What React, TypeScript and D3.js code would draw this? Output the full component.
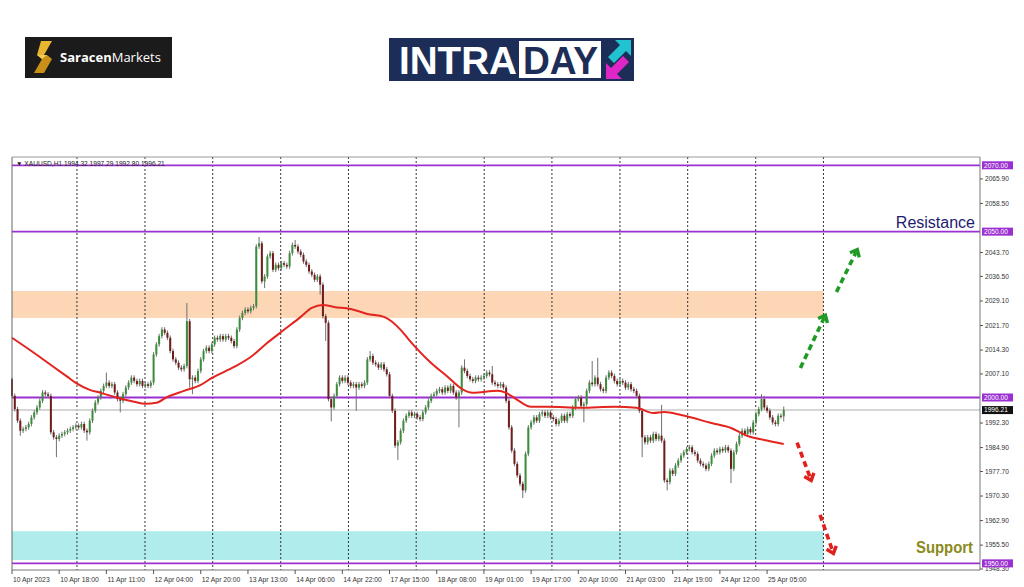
import React from 'react';
import * as d3 from 'd3';

// ---------- DATA ----------
const firstOpen = 2005.5;
const closes: number[] = [
  2000.5, 1996.5, 1993.0, 1990.0, 1990.5, 1991.0, 1992.0, 1994.0, 1995.5, 1997.0,
  1999.0, 2001.5, 2001.0, 2000.5, 1989.5, 1988.0, 1987.5, 1988.5, 1989.0, 1989.5,
  1990.0, 1990.5, 1991.0, 1991.5, 1991.0, 1992.0, 1990.0, 1989.5, 1993.0, 1996.0,
  1998.5, 2000.0, 2002.0, 2003.5, 2004.5, 2003.5, 2004.0, 2001.5, 1999.5, 1999.0,
  2001.0, 2003.0, 2004.5, 2006.0, 2005.0, 2004.0, 2005.0, 2003.5, 2004.0, 2003.5,
  2004.5, 2013.0, 2016.0, 2018.5, 2020.5, 2019.5, 2018.0, 2014.0, 2011.5, 2010.5,
  2009.0, 2008.5, 2009.5, 2023.0, 2005.5, 2006.0, 2005.0, 2008.0, 2011.5, 2014.0,
  2015.0, 2014.0, 2016.0, 2018.0, 2017.5, 2018.5, 2017.5, 2018.5, 2018.0, 2017.0,
  2015.5, 2020.5, 2024.0, 2025.5, 2026.5, 2026.0, 2027.0, 2027.5, 2045.5, 2046.5,
  2035.0, 2036.5, 2042.5, 2043.5, 2038.5, 2040.0, 2039.0, 2040.5, 2040.0, 2039.5,
  2043.5, 2046.0, 2045.5, 2044.0, 2043.0, 2041.0, 2040.0, 2038.0, 2037.0, 2035.5,
  2036.5, 2034.0, 2024.5, 2022.5, 1999.5, 1997.0, 2000.5, 2004.0, 2006.0, 2005.0,
  2006.0, 2004.5, 2003.5, 2004.0, 2003.0, 2004.0, 2003.5, 2004.5, 2011.5, 2012.5,
  2010.5, 2010.0, 2009.0, 2010.0, 2008.5, 2007.0, 2000.5, 1996.0, 1985.5, 1986.5,
  1990.0, 1993.0, 1994.5, 1995.5, 1994.5, 1995.0, 1994.0, 1993.5, 1995.5, 1997.0,
  1999.0, 2000.5, 2001.0, 2002.0, 2002.5, 2001.5, 2003.0, 2002.0, 2003.5, 2001.5,
  2000.0, 2001.5, 2009.0, 2008.0, 2006.5, 2005.5, 2005.0, 2006.0, 2005.5, 2006.0,
  2006.5, 2007.5, 2007.0, 2004.5, 2004.0, 2003.5, 2004.0, 2003.0, 1999.0, 1991.0,
  1984.0, 1980.0, 1976.5, 1974.0, 1972.0, 1983.0, 1991.0, 1992.5, 1994.0, 1993.0,
  1995.0, 1995.5, 1994.5, 1995.5, 1994.0, 1993.5, 1992.0, 1993.0, 1994.5, 1993.0,
  1995.0, 1994.5, 1997.0, 1999.5, 2000.0, 1997.5, 1998.0, 2002.0, 2004.5, 2004.0,
  2006.0, 2004.0, 2002.5, 2002.0, 2006.0, 2007.5, 2006.5, 2005.0, 2004.0, 2005.0,
  2004.5, 2003.0, 2004.0, 2002.5, 2002.0, 2000.5, 1996.0, 1988.0, 1986.5, 1988.0,
  1987.0, 1989.0, 1987.5, 1988.5, 1987.0, 1975.0, 1974.5, 1978.0, 1977.0, 1979.5,
  1981.0, 1982.5, 1983.5, 1984.5, 1985.0, 1983.5, 1983.0, 1981.0, 1980.0, 1979.5,
  1978.5, 1980.0, 1982.5, 1984.0, 1983.5, 1984.5, 1984.0, 1985.0, 1984.0, 1978.5,
  1983.5, 1986.0, 1988.5, 1990.0, 1989.0, 1990.5, 1989.5, 1992.5, 1995.0, 1996.5,
  1999.5, 1997.0, 1996.0, 1994.0, 1992.5, 1992.0, 1994.5, 1994.32, 1996.21,
];
// typical wick length (price units) for ordinary bars
const typicalWick = 0.7;
// [bar, high, low] for bars with notable wicks (null = ordinary)
const spikes: [number, number | null, number | null][] = [
  [0, 2006.0, 2000.0], [3, null, 1988.5], [16, null, 1982.0], [27, null, 1987.0],
  [34, 2007.5, null], [39, null, 1995.5], [63, 2028.5, null], [64, null, 2003.0],
  [65, null, 2001.0], [89, 2048.4, null], [91, null, 2033.0], [102, 2047.5, null],
  [111, null, 2031.0], [113, null, 2017.0], [115, null, 1992.8], [124, null, 1996.0],
  [129, 2014.0, null], [139, null, 1981.2], [161, null, 1991.0], [163, 2011.5, null],
  [173, 2009.5, null], [184, null, 1969.7], [206, null, 1992.5], [209, 2011.0, null],
  [211, 2012.0, null], [227, null, 1982.0], [234, 1997.8, null], [236, null, 1972.0],
  [259, null, 1974.2], [270, 2001.0, null], [271, 2000.5, null], [278, 1997.29, 1992.8],
];
// red moving average: [bar, value]
const maPoints: [number, number][] = [
  [0, 2018.0], [8, 2013.4], [14, 2009.8], [20, 2006.2], [23, 2004.4], [28, 2002.3],
  [32, 2001.4], [38, 1999.9], [44, 1998.7], [48, 1998.1], [52, 1998.4], [56, 2000.2],
  [62, 2002.0], [68, 2003.8], [72, 2005.9], [80, 2009.2], [86, 2012.2], [92, 2016.5],
  [98, 2020.4], [104, 2024.3], [108, 2027.0], [112, 2027.9], [116, 2027.3], [122, 2026.7],
  [128, 2025.2], [134, 2024.3], [140, 2020.4], [143, 2017.4], [151, 2010.4], [157, 2006.2],
  [162, 2002.6], [166, 2001.4], [175, 2002.0], [178, 2001.4], [182, 1999.3], [187, 1997.2],
  [193, 1997.2], [205, 1996.9], [217, 1997.2], [225, 1996.9], [231, 1995.3], [235, 1995.6],
  [241, 1994.7], [252, 1992.3], [259, 1990.8], [265, 1988.4], [271, 1987.2], [278, 1986.0],
];
const xLabels = [
  '10 Apr 2023', '10 Apr 18:00', '11 Apr 11:00', '12 Apr 04:00', '12 Apr 20:00',
  '13 Apr 13:00', '14 Apr 06:00', '14 Apr 22:00', '17 Apr 15:00', '18 Apr 08:00',
  '19 Apr 01:00', '19 Apr 17:00', '20 Apr 10:00', '21 Apr 03:00', '21 Apr 19:00',
  '24 Apr 12:00', '25 Apr 05:00',
];
const xLabelBars = [0, 17, 34, 51, 68, 85, 102, 119, 136, 153, 170, 187, 204, 221, 238, 255, 272];
const gridBars = [23.4, 47.9, 72.3, 96.8, 121.2, 145.6, 170.1, 194.5, 219.0, 243.4, 267.9, 292.3];
const yTicks = [2065.9, 2058.5, 2043.7, 2036.5, 2029.1, 2021.7, 2014.3, 2007.1,
  1992.3, 1984.9, 1977.7, 1970.3, 1962.9, 1955.5, 1948.3];
const levels = [2070, 2050, 2000, 1950];
const lastPrice = 1996.21;
const zones = [
  { lo: 2024.0, hi: 2032.1, color: '#fdd6b6' },
  { lo: 1951.0, hi: 1959.7, color: '#b1ecec' },
];
const zoneEndBar = 292.3;
const arrows = [
  { from: [284.0, 2008.9], to: [293.0, 2024.8], color: '#1f9a24' },
  { from: [297.0, 2031.8], to: [304.5, 2044.6], color: '#1f9a24' },
  { from: [282.8, 1986.4], to: [287.9, 1975.0], color: '#e0201c' },
  { from: [291.1, 1964.6], to: [295.9, 1953.0], color: '#e0201c' },
];
const headerText = '\u25BC XAUUSD,H1  1994.32 1997.29 1992.80 1996.21';

// ---------- COMPONENT ----------
const FONT = "'Liberation Sans', Arial, sans-serif";
const W = 1024, H = 587;
const L = 12, R = 980, T = 157, B = 570;

export default function App() {
  const x = d3.scaleLinear().domain([0, 348.7]).range([L, R]);
  const y = d3.scaleLinear().domain([1948.0, 2072.5]).range([B, T]);
  const spikeMap = new Map(spikes.map(s => [s[0], s]));
  const bars = closes.map((c, i) => {
    const o = i === 0 ? firstOpen : closes[i - 1];
    const s = spikeMap.get(i);
    const h = s && s[1] != null ? s[1] : Math.max(o, c) + typicalWick;
    const l = s && s[2] != null ? s[2] : Math.min(o, c) - typicalWick;
    return { i, o, h, l, c };
  });
  const maLine = d3.line<[number, number]>().x(d => x(d[0])).y(d => y(d[1])).curve(d3.curveMonotoneX);

  const arrowEls = arrows.map((a, k) => {
    const x1 = x(a.from[0]), y1 = y(a.from[1]), x2 = x(a.to[0]), y2 = y(a.to[1]);
    const ang = Math.atan2(y2 - y1, x2 - x1);
    const len = 8;
    const p1 = [x2 - len * Math.cos(ang - 0.7), y2 - len * Math.sin(ang - 0.7)];
    const p2 = [x2 - len * Math.cos(ang + 0.7), y2 - len * Math.sin(ang + 0.7)];
    const sx = x2 - 3 * Math.cos(ang), sy = y2 - 3 * Math.sin(ang);
    return (
      <g key={k}>
        <line x1={x1} y1={y1} x2={sx} y2={sy} stroke={a.color} strokeWidth={3.6} strokeDasharray="6,4" />
        <polyline points={`${p1[0]},${p1[1]} ${x2},${y2} ${p2[0]},${p2[1]}`} fill="none" stroke={a.color} strokeWidth={3.4} strokeLinejoin="miter" />
      </g>
    );
  });

  return (
    <svg width={W} height={H} style={{ position: 'absolute', left: 0, top: 0, background: '#fff' }} fontFamily={FONT}>
      <rect x={0} y={0} width={W} height={H} fill="#fff" />
      {/* Saracen logo */}
      <rect x={25} y={37} width={147} height={41} fill="#1c1b1b" />
      <polygon points="41,41 52,41 44,55 37,55" fill="#e8b52e" />
      <polygon points="37,55 47,55 52,59 44,73 34,73 42,59" fill="#c98f16" />
      <polygon points="44,55 47,55 42,59 37,55" fill="#f2cc55" />
      <text x={60} y={62} fontSize={13} fill="#fff" fontFamily="'Open Sans', sans-serif">
        <tspan fontWeight="bold">Saracen</tspan><tspan>Markets</tspan>
      </text>
      {/* INTRADAY logo */}
      <rect x={389} y={38} width={245} height={43} fill="#1c2d57" />
      <text x={399} y={74} fontSize={38} fontWeight="bold" fill="#fff" textLength={118} lengthAdjust="spacingAndGlyphs">INTRA</text>
      <rect x={519} y={41} width={82} height={37} fill="#fff" />
      <text x={523} y={74} fontSize={38} fontWeight="bold" fill="#1c2d57" textLength={75} lengthAdjust="spacingAndGlyphs">DAY</text>
      <polygon points="615,40 631,40 631,56 626,51 614,63 608,57 620,45" fill="#22c3d0" />
      <polygon points="606,79 606,63 611,68 623,56 629,62 617,74 622,79" fill="#e026c6" />

      {/* zones */}
      {zones.map((z, k) => (
        <rect key={k} x={L} y={y(z.hi)} width={x(zoneEndBar) - L} height={y(z.lo) - y(z.hi)} fill={z.color} />
      ))}

      {/* vertical dashed grid */}
      {gridBars.map((g, k) => (
        <line key={k} x1={x(g)} x2={x(g)} y1={T} y2={B} stroke="#333" strokeWidth={1} strokeDasharray="2,2" />
      ))}

      {/* last price line */}
      <line x1={L} x2={R} y1={y(lastPrice)} y2={y(lastPrice)} stroke="#c8c8c8" strokeWidth={1.5} />

      {/* level lines */}
      {levels.map((v, k) => (
        <line key={k} x1={L} x2={R} y1={y(v)} y2={y(v)} stroke="#9b30d2" strokeWidth={1.8} />
      ))}

      {/* candles */}
      {bars.map(b => {
        const cx = x(b.i);
        const up = b.c >= b.o;
        const top = y(Math.max(b.o, b.c));
        const h = Math.max(1, y(Math.min(b.o, b.c)) - top);
        return (
          <g key={b.i}>
            <line x1={cx} x2={cx} y1={y(b.h)} y2={y(b.l)} stroke="#707070" strokeWidth={1} />
            <rect x={cx - 1} y={top} width={2} height={h} fill={up ? '#3b8d3b' : '#6e1c1c'} />
          </g>
        );
      })}

      {/* moving average */}
      <path d={maLine(maPoints) || ''} fill="none" stroke="#e3241f" strokeWidth={2} />

      {/* arrows */}
      {arrowEls}

      {/* frame */}
      <line x1={L} x2={L} y1={T} y2={B} stroke="#666" strokeWidth={1} />
      <line x1={L} x2={R} y1={T} y2={T} stroke="#999" strokeWidth={1} />
      <line x1={R} x2={R} y1={T} y2={B} stroke="#777" strokeWidth={1} />
      <line x1={L} x2={R} y1={B} y2={B} stroke="#777" strokeWidth={1} />

      {/* header */}
      <text x={16} y={166} fontSize={6.6} fill="#222">{headerText}</text>

      {/* y ticks */}
      {yTicks.map((v, k) => (
        <g key={k}>
          <line x1={R} x2={R + 3} y1={y(v)} y2={y(v)} stroke="#555" />
          <text x={R + 5} y={y(v) + 2.3} fontSize={6.6} fill="#333">{v.toFixed(2)}</text>
        </g>
      ))}
      {/* level labels */}
      {levels.map((v, k) => (
        <g key={k}>
          <rect x={R + 2} y={y(v) - 4} width={31} height={8} fill="#9b30d2" />
          <text x={R + 4} y={y(v) + 2.4} fontSize={6.6} fill="#fff">{v.toFixed(2)}</text>
        </g>
      ))}
      <rect x={R + 2} y={y(lastPrice) - 4} width={31} height={8} fill="#111" />
      <text x={R + 4} y={y(lastPrice) + 2.4} fontSize={6.6} fill="#fff">{lastPrice.toFixed(2)}</text>

      {/* x labels */}
      {xLabels.map((t, k) => {
        const px = x(xLabelBars[k]);
        return (
          <g key={k}>
            <line x1={px} x2={px} y1={B} y2={B + 4} stroke="#555" />
            <text x={px + 1} y={582} fontSize={6.8} fill="#333">{t}</text>
          </g>
        );
      })}

      {/* annotations */}
      <text x={975} y={228} fontSize={16} fill="#1c1c6e" textAnchor="end">Resistance</text>
      <text x={973} y={553} fontSize={16} fill="#8a8a1c" textAnchor="end" fontWeight="bold" textLength={57} lengthAdjust="spacingAndGlyphs">Support</text>
    </svg>
  );
}
